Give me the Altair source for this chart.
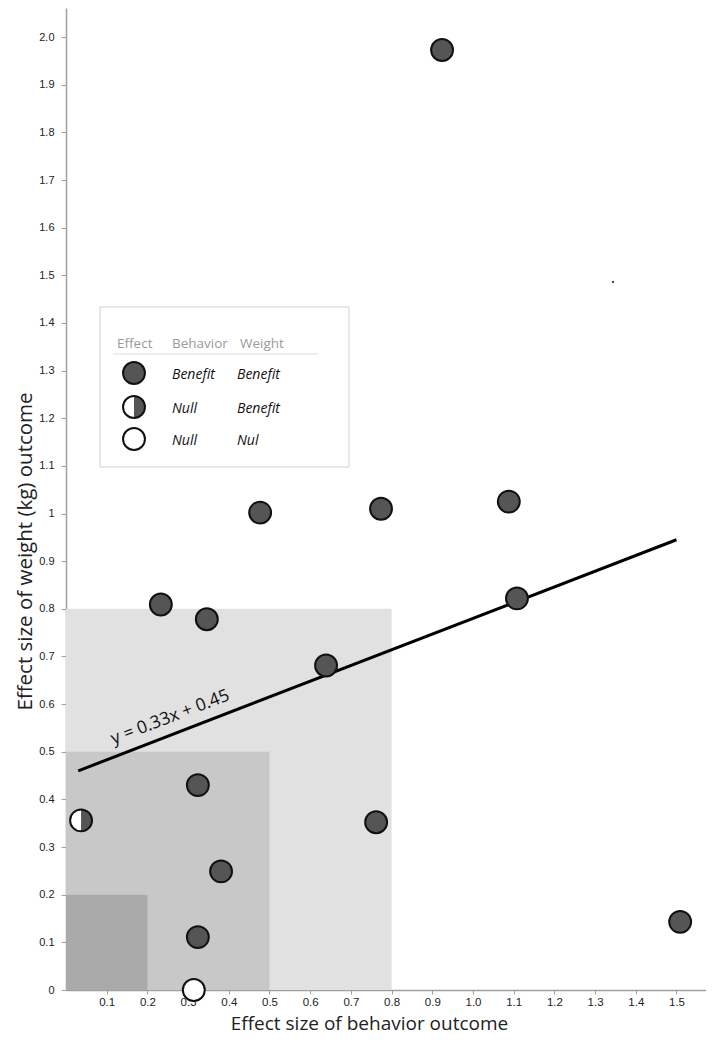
import altair as alt
import pandas as pd

# ---------------- data ----------------
behavior_es = [0.924, 0.477, 0.774, 1.088, 1.108, 0.233, 0.346, 0.639,
               0.324, 0.762, 0.381, 0.324, 1.509, 0.037, 0.314]
weight_es = [1.973, 1.002, 1.010, 1.025, 0.822, 0.809, 0.778, 0.681,
             0.430, 0.352, 0.249, 0.111, 0.143, 0.356, 0.000]
effect_type = ["Benefit/Benefit"] * 13 + ["Null/Benefit", "Null/Null"]

stray_dot_x = [1.344]
stray_dot_y = [1.486]

zone_limits = [0.8, 0.5, 0.2]
zone_colors = ["#e1e1e1", "#c8c8c8", "#aaaaaa"]

reg_slope = 0.33
reg_intercept = 0.45
reg_x_range = [0.03, 1.5]
reg_label = "y = 0.33x + 0.45"

x_ticks = [round(0.1 * i, 1) for i in range(1, 16)]
y_ticks = [round(0.1 * i, 1) for i in range(0, 21)]

legend_headers = ["Effect", "Behavior", "Weight"]
legend_effect = ["Benefit/Benefit", "Null/Benefit", "Null/Null"]
legend_behavior = ["Benefit", "Null", "Null"]
legend_weight = ["Benefit", "Benefit", "Nul"]

effect_domain = ["Benefit/Benefit", "Null/Benefit", "Null/Null"]
effect_fill = ["#555555", "#ffffff", "#ffffff"]

DARK = "#555555"
HALF_PATH = "M0,-1A1,1 0 0,1 0,1Z"
MSIZE = 480

# ---------------- scales / axes ----------------
X_SCALE = alt.Scale(domain=[0, 1.5725], nice=False, zero=False)
Y_SCALE = alt.Scale(domain=[0, 2.061], nice=False, zero=False)

x_axis = alt.Axis(
    values=x_ticks, labelExpr="format(datum.value, '.1f')",
    grid=False, domainColor="#a0a0a0", domainWidth=1.5,
    tickColor="#a0a0a0", tickSize=4, tickWidth=1,
    labelFont="Liberation Sans", labelFontSize=11.5, labelColor="#222222",
    labelPadding=2,
    title="Effect size of behavior outcome", titleFont="Open Sans",
    titleFontSize=19, titleFontWeight="normal", titleColor="#222222",
    titleX=303, titleY=39, titleBaseline="alphabetic",
)
y_axis = alt.Axis(
    values=y_ticks,
    labelExpr="datum.value == 0 ? '0' : (datum.value == 1 ? '1' : format(datum.value, '.1f'))",
    grid=False, domainColor="#a0a0a0", domainWidth=1.5,
    tickColor="#a0a0a0", tickSize=5, tickWidth=1,
    labelFont="Liberation Sans", labelFontSize=11, labelColor="#222222",
    labelPadding=7,
    title="Effect size of weight (kg) outcome", titleFont="Open Sans",
    titleFontSize=20.5, titleFontWeight="normal", titleColor="#222222",
    titleAngle=270, titleX=-35, titleY=543, titleBaseline="alphabetic",
)


def X(f="x"):
    return alt.X(f"{f}:Q", scale=X_SCALE, axis=x_axis, title="Effect size of behavior outcome")


def Y(f="y"):
    return alt.Y(f"{f}:Q", scale=Y_SCALE, axis=y_axis, title="Effect size of weight (kg) outcome")


FILL = alt.Fill("effect:N", scale=alt.Scale(domain=effect_domain, range=effect_fill), legend=None)

# ---------------- layers ----------------
zones_df = pd.DataFrame({"x": [0.0] * 3, "x2": zone_limits, "y": [0.0] * 3,
                         "y2": zone_limits, "c": zone_colors})
zones = alt.Chart(zones_df).mark_rect(opacity=1).encode(
    x=X(), x2="x2", y=Y(), y2="y2", color=alt.Color("c:N", scale=None))

line_df = pd.DataFrame({"x": reg_x_range,
                        "y": [reg_slope * v + reg_intercept for v in reg_x_range]})
reg_line = alt.Chart(line_df).mark_line(color="black", strokeWidth=3).encode(x=X(), y=Y())

lab_df = pd.DataFrame({"x": [0.256], "y": [0.572], "t": [reg_label]})
reg_text = alt.Chart(lab_df).mark_text(
    angle=339, align="center", baseline="middle", font="Open Sans",
    fontSize=17.5, color="#111111").encode(x=X(), y=Y(), text="t:N")

pts_df = pd.DataFrame({"x": behavior_es, "y": weight_es, "effect": effect_type})


def marker_layers(df, xe, ye):
    base_fill = alt.Chart(df).mark_point(shape="circle", filled=True, size=MSIZE,
                                         opacity=1, strokeWidth=0).encode(x=xe, y=ye, fill=FILL)
    halves = df[df["effect"] == "Null/Benefit"]
    half = alt.Chart(halves).mark_point(shape=HALF_PATH, filled=True, size=MSIZE,
                                        opacity=1, color=DARK, strokeWidth=0).encode(x=xe, y=ye)
    ring = alt.Chart(df).mark_point(shape="circle", filled=False, size=MSIZE, opacity=1,
                                    color="#111111", strokeWidth=2).encode(x=xe, y=ye)
    return [base_fill, half, ring]


points = marker_layers(pts_df, X(), Y())

dot_df = pd.DataFrame({"x": stray_dot_x, "y": stray_dot_y})
dot = alt.Chart(dot_df).mark_point(shape="square", filled=True, size=5, opacity=1,
                                   color="#555555").encode(x=X(), y=Y())

# ---------------- legend box (pixel layout) ----------------
PX = alt.X("px:Q", scale=None, axis=None)
PY = alt.Y("py:Q", scale=None, axis=None)

box_df = pd.DataFrame({"px": [34], "px2": [283], "py": [299], "py2": [459]})
box = alt.Chart(box_df).mark_rect(fill="white", stroke="#cfcfcf", strokeWidth=1).encode(
    x=PX, x2="px2", y=PY, y2="py2")

hdr_df = pd.DataFrame({"px": [51, 106, 174], "py": [340] * 3, "t": legend_headers})
hdr = alt.Chart(hdr_df).mark_text(align="left", baseline="alphabetic", font="Open Sans",
                                  fontSize=13.5, color="#9a9a9a").encode(x=PX, y=PY, text="t:N")

ul_df = pd.DataFrame({"px": [47], "px2": [252], "py": [346]})
underline = alt.Chart(ul_df).mark_rule(color="#dddddd", strokeWidth=1).encode(
    x=PX, x2="px2", y=PY)

leg_rows_y = [365, 399, 431]
leg_pts_df = pd.DataFrame({"px": [68] * 3, "py": leg_rows_y, "effect": legend_effect})
leg_markers = marker_layers(leg_pts_df, PX, PY)

leg_txt_df = pd.DataFrame({
    "px": [106] * 3 + [171] * 3,
    "py": [r + 6 for r in leg_rows_y] * 2,
    "t": legend_behavior + legend_weight,
})
leg_txt = alt.Chart(leg_txt_df).mark_text(
    align="left", baseline="alphabetic", font="Open Sans", fontStyle="italic",
    fontSize=14, color="#111111").encode(x=PX, y=PY, text="t:N")

chart = alt.layer(
    zones, reg_line, reg_text, *points, dot,
    box, hdr, underline, *leg_markers, leg_txt,
).properties(
    width=640, height=982,
    autosize=alt.AutoSizeParams(type="none"),
    padding={"left": 58, "top": 0, "right": 0, "bottom": 45},
    background="white",
).configure_view(stroke=None)

chart.save("out.html", embed_options={"renderer": "svg", "actions": False})
